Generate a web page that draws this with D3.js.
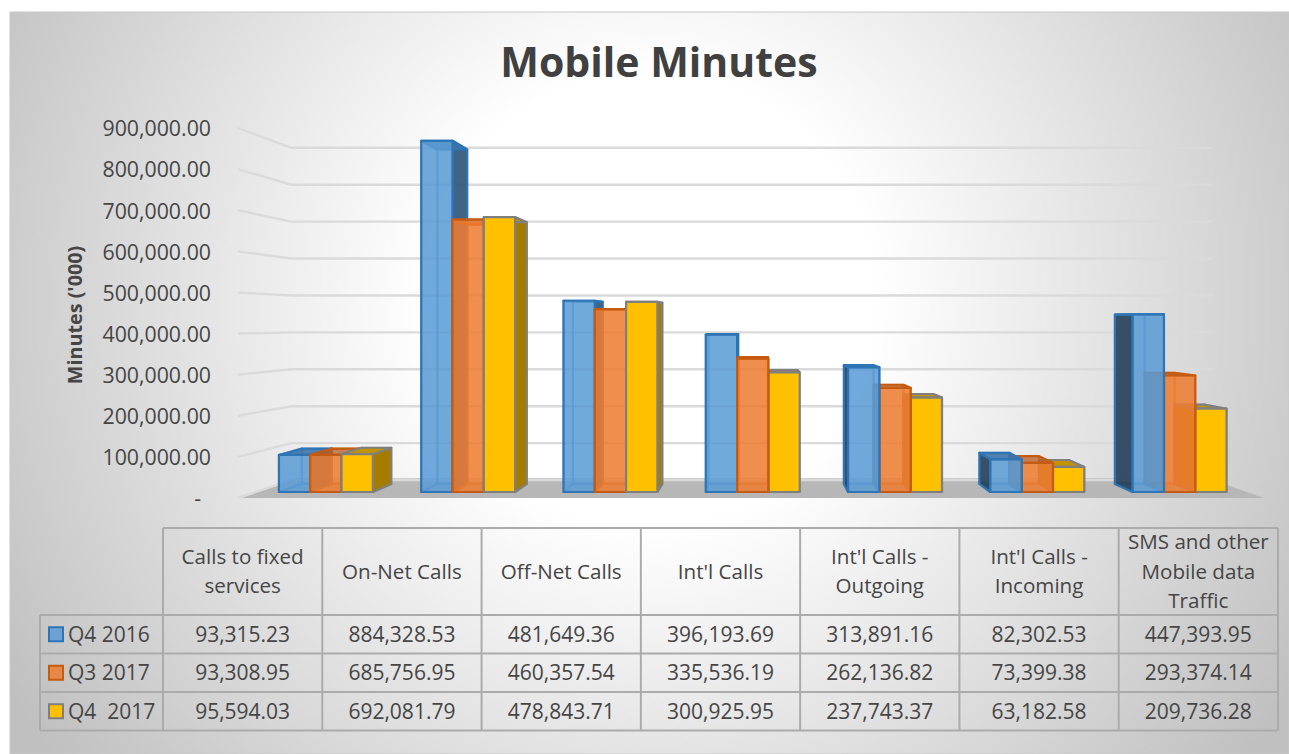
<!DOCTYPE html>
<html>
<head>
<meta charset="utf-8">
<script src="https://cdn.jsdelivr.net/npm/d3@7"></script>
<style>
  body { margin: 0; background: #fff; }
  text { font-family: "Open Sans", sans-serif; fill: #454545; white-space: pre; font-variant-ligatures: none; }
</style>
</head>
<body>
<div id="chart"></div>
<script>
// chart values
const categories = ["Calls to fixed services", "On-Net Calls", "Off-Net Calls", "Int'l Calls",
    "Int'l Calls - Outgoing", "Int'l Calls - Incoming", "SMS and other Mobile data Traffic"];
const categoryLines = [["Calls to fixed", "services"], ["On-Net Calls"], ["Off-Net Calls"], ["Int'l Calls"],
    ["Int'l Calls -", "Outgoing"], ["Int'l Calls -", "Incoming"], ["SMS and other", "Mobile data", "Traffic"]];
const seriesNames = ["Q4 2016", "Q3 2017", "Q4  2017"];
const q4_2016 = [93315.23, 884328.53, 481649.36, 396193.69, 313891.16, 82302.53, 447393.95];
const q3_2017 = [93308.95, 685756.95, 460357.54, 335536.19, 262136.82, 73399.38, 293374.14];
const q4_2017 = [95594.03, 692081.79, 478843.71, 300925.95, 237743.37, 63182.58, 209736.28];
const seriesValues = [q4_2016, q3_2017, q4_2017];
const yTicks = [0, 100000, 200000, 300000, 400000, 500000, 600000, 700000, 800000, 900000];

const width = 1289, height = 754;

const svg = d3.select("#chart").append("svg")
    .attr("width", width)
    .attr("height", height)
    .style("display", "block");

// background of the chart area
const grad = svg.append("defs").append("radialGradient")
    .attr("id", "bg")
    .attr("gradientUnits", "userSpaceOnUse")
    .attr("cx", 650).attr("cy", 300).attr("r", 750);
grad.append("stop").attr("offset", "0%").attr("stop-color", "#ffffff");
grad.append("stop").attr("offset", "30%").attr("stop-color", "#ffffff");
grad.append("stop").attr("offset", "100%").attr("stop-color", "#c0c0c0");

svg.append("rect")
    .attr("x", 10).attr("y", 12)
    .attr("width", 1279).attr("height", 742)
    .attr("fill", "url(#bg)")
    .attr("stroke", "#c8c8c8");

// the fake 3d: everything sits on the front plane and is pulled to a vanishing point
const vp = {x: 760, y: 322};
const kBack = 0.898, kFloor = 0.888, kBarFront = 0.966, kBarBack = 0.92;

const xFront = d3.scaleBand().domain(categories).range([238, 1267]).paddingInner(0.34).paddingOuter(0.163);
const xSeries = d3.scaleBand().domain(d3.range(3)).range([0, xFront.bandwidth()]);
const yFront = d3.scaleLinear().domain([0, 900000]).range([498, 128]);

function project(x, v, k) {
    return [vp.x + (x - vp.x) * k, vp.y + (yFront(v) - vp.y) * k];
}

// floor
const xL = 238, xR = 1264;
svg.append("polygon")
    .attr("points", [project(xL, 0, 1), project(xR, 0, 1), project(xR, 0, kFloor), project(xL, 0, kFloor)].join(" "))
    .attr("fill", "#b7b7b7");

// gridlines
const line = d3.line();
svg.append("g").selectAll("path")
    .data(yTicks)
    .join("path")
    .attr("d", d => line([project(xL, d, 1), project(xL, d, kBack), project(xR, d, kBack)]))
    .attr("fill", "none")
    .attr("stroke", "#dadada")
    .attr("stroke-width", 2.4);

// y axis
const yAxis = svg.append("g")
    .attr("transform", "translate(211,1)")
    .call(d3.axisLeft(yFront).tickValues(yTicks).tickSize(0).tickPadding(0)
        .tickFormat(d => d === 0 ? "-" : d3.format(",.2f")(d)));
yAxis.select(".domain").remove();
yAxis.selectAll("text")
    .style("font-size", "21.3px")
    .style("font-family", "'Open Sans', sans-serif");
yAxis.selectAll(".tick").filter(d => d === 0).select("text").attr("x", -10);

svg.append("text")
    .attr("transform", "translate(82,315) rotate(-90)")
    .attr("text-anchor", "middle")
    .style("font-size", "19.8px")
    .style("font-weight", "bold")
    .text("Minutes ('000)");

svg.append("text")
    .attr("x", 659).attr("y", 77)
    .attr("text-anchor", "middle")
    .style("font-size", "41px")
    .style("font-weight", "bold")
    .style("fill", "#404040")
    .text("Mobile Minutes");

// bars
const styles = [
    {front: "#5b9bd5", op: 0.85, stroke: "#2e75b6", sideL: "#263f5a", sideR: "#2f5378", sideOp: 0.9, top: "#3f74a8", faint: 0.12},
    {front: "#ed7d31", op: 0.85, stroke: "#c55a11", sideL: "#a04c10", sideR: "#a04c10", sideOp: 0.75, top: "#b5622a", faint: 0.12},
    {front: "#ffc000", op: 1, stroke: "#7f7f7f", sideL: "#a67c00", sideR: "#a67c00", sideOp: 1, top: "#c49400", faint: 1}
];

const bars = categories.flatMap((c, i) => seriesValues.map((vals, s) => {
    const x0 = xFront(c) + xSeries(s);
    return {c, s, v: vals[i], x0, x1: x0 + xSeries.bandwidth()};
}));

function faces(d) {
    const st = styles[d.s];
    const f = (x, v) => project(x, v, kBarFront), b = (x, v) => project(x, v, kBarBack);
    const leftOn = d.x0 > vp.x;
    const rightOn = d.x1 < vp.x;
    const faint = {fill: st.front, op: st.faint, strokeOp: 0.4};
    return [
        {pts: [b(d.x0, 0), b(d.x1, 0), b(d.x1, d.v), b(d.x0, d.v)], ...faint},
        {pts: [f(d.x0, 0), f(d.x1, 0), b(d.x1, 0), b(d.x0, 0)], ...faint},
        {pts: [f(d.x0, 0), b(d.x0, 0), b(d.x0, d.v), f(d.x0, d.v)],
            ...(leftOn ? {fill: st.sideL, op: st.sideOp, strokeOp: 1} : faint)},
        {pts: [f(d.x1, 0), b(d.x1, 0), b(d.x1, d.v), f(d.x1, d.v)],
            ...(rightOn ? {fill: st.sideR, op: st.sideOp, strokeOp: 1} : faint)},
        {pts: [f(d.x0, d.v), f(d.x1, d.v), b(d.x1, d.v), b(d.x0, d.v)], fill: st.top, op: st.sideOp, strokeOp: 1},
        {pts: [f(d.x0, 0), f(d.x1, 0), f(d.x1, d.v), f(d.x0, d.v)], fill: st.front, op: st.op, strokeOp: 1}
    ];
}

// farthest from the vanishing point goes first
const barGroups = categories.flatMap(c => bars.filter(d => d.c === c)
    .sort((a, b) => Math.abs(b.x0 + b.x1 - 2 * vp.x) - Math.abs(a.x0 + a.x1 - 2 * vp.x)));

svg.append("g").selectAll("g")
    .data(barGroups)
    .join("g")
    .selectAll("polygon")
    .data(d => faces(d).map(face => ({...face, stroke: styles[d.s].stroke})))
    .join("polygon")
    .attr("points", d => d.pts.join(" "))
    .attr("fill", d => d.fill)
    .attr("fill-opacity", d => d.op)
    .attr("stroke", d => d.stroke)
    .attr("stroke-opacity", d => d.strokeOp)
    .attr("stroke-width", 2.2)
    .attr("stroke-linejoin", "round");

// data table
const xTable = d3.scaleBand().domain(categories).range([163, 1278]);
const headerTop = 528, headerBottom = 615;
const yTable = d3.scaleBand().domain(seriesNames).range([headerBottom, 730.5]);
const legendLeft = 40;

const table = svg.append("g");
const tableLines = [
    ...d3.range(8).map(i => [163 + i * xTable.step(), headerTop, 163 + i * xTable.step(), yTable.range()[1]]),
    [163, headerTop, 1278, headerTop],
    [legendLeft, headerBottom, legendLeft, yTable.range()[1]],
    ...d3.range(4).map(i => [legendLeft, headerBottom + i * yTable.step(), 1278, headerBottom + i * yTable.step()])
];
table.selectAll("line")
    .data(tableLines)
    .join("line")
    .attr("x1", d => d[0]).attr("y1", d => d[1])
    .attr("x2", d => d[2]).attr("y2", d => d[3])
    .attr("stroke", "#ababab")
    .attr("stroke-width", 2);

// header cells, one tspan per line
const headerMid = (headerTop + headerBottom) / 2;
const lineGap = 29.5;
table.selectAll("text.head")
    .data(categories)
    .join("text")
    .attr("class", "head")
    .attr("text-anchor", "middle")
    .style("font-size", "20.6px")
    .selectAll("tspan")
    .data((c, i) => categoryLines[i].map((t, j, all) => ({c, t, j, n: all.length})))
    .join("tspan")
    .attr("x", d => xTable(d.c) + xTable.bandwidth() / 2)
    .attr("y", d => headerMid + 7 + (d.j - (d.n - 1) / 2) * lineGap)
    .text(d => d.t);

// value cells
seriesNames.forEach((name, s) => {
    table.selectAll("text.row" + s)
        .data(seriesValues[s])
        .join("text")
        .attr("class", "row" + s)
        .attr("text-anchor", "middle")
        .attr("x", (d, i) => xTable(categories[i]) + xTable.bandwidth() / 2)
        .attr("y", yTable(name) + yTable.bandwidth() / 2 + 7.5)
        .style("font-size", "21px")
        .text(d => d3.format(",.2f")(d));

    table.append("rect")
        .attr("x", 49).attr("y", yTable(name) + yTable.bandwidth() / 2 - 7)
        .attr("width", 14).attr("height", 14)
        .attr("fill", styles[s].front)
        .attr("fill-opacity", styles[s].op)
        .attr("stroke", styles[s].stroke)
        .attr("stroke-width", 2);

    table.append("text")
        .attr("x", 68)
        .attr("y", yTable(name) + yTable.bandwidth() / 2 + 7.5)
        .style("font-size", "21px")
        .text(name);
});
</script>
</body>
</html>
